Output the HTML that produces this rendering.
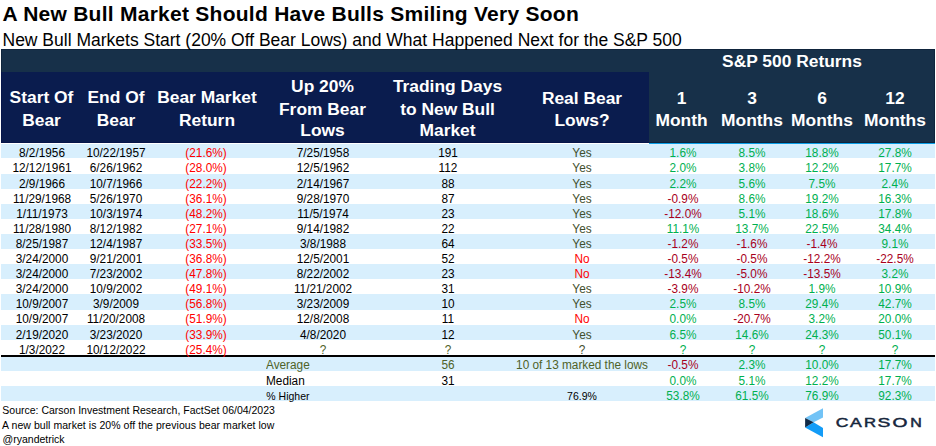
<!DOCTYPE html>
<html><head><meta charset="utf-8"><style>
html,body{margin:0;padding:0;background:#fff}
body{width:936px;height:446px;position:relative;overflow:hidden;font-family:"Liberation Sans", Arial, sans-serif}
.t{position:absolute;white-space:pre}
.r{position:absolute}
</style></head><body>
<div class="r" style="left:1px;top:49px;width:934px;height:94px;background:#173049"></div>
<div class="r" style="left:1px;top:72px;width:648px;height:71px;background:#0a1c4e"></div>
<div class="r" style="left:1px;top:143px;width:648px;height:1px;background:#ffffff"></div>
<div class="r" style="left:1px;top:49px;width:934px;height:1px;background:#0f243c"></div>
<div class="r" style="left:1px;top:49px;width:1px;height:23px;background:#0f243c"></div>
<div class="r" style="left:934px;top:49px;width:1px;height:94px;background:#0f243c"></div>
<div class="r" style="left:649px;top:142px;width:286px;height:1px;background:#0f243c"></div>
<div class="r" style="left:1px;top:72px;width:1px;height:71px;background:#06154a"></div>
<div class="r" style="left:1px;top:142px;width:648px;height:1px;background:#06154a"></div>
<div class="r" style="left:649px;top:143px;width:286px;height:1px;background:#0a9ee6"></div>
<div class="r" style="left:1px;top:144px;width:934px;height:14px;background:#d8effd"></div>
<div class="r" style="left:1px;top:174px;width:934px;height:15px;background:#d8effd"></div>
<div class="r" style="left:1px;top:204px;width:934px;height:15px;background:#d8effd"></div>
<div class="r" style="left:1px;top:234px;width:934px;height:15px;background:#d8effd"></div>
<div class="r" style="left:1px;top:264px;width:934px;height:15px;background:#d8effd"></div>
<div class="r" style="left:1px;top:294px;width:934px;height:16px;background:#d8effd"></div>
<div class="r" style="left:1px;top:325px;width:934px;height:15px;background:#d8effd"></div>
<div class="r" style="left:1px;top:355px;width:934px;height:2px;background:#000"></div>
<div class="r" style="left:1px;top:357px;width:934px;height:14px;background:#d8effd"></div>
<div class="r" style="left:1px;top:386px;width:934px;height:15px;background:#d8effd"></div>
<div class="t" style="left:2.40px;top:2.00px;font-size:21px;line-height:23px;font-weight:700;color:#000;letter-spacing:0.26px;">A New Bull Market Should Have Bulls Smiling Very Soon</div>
<div class="t" style="left:2.50px;top:30.00px;font-size:17.5px;line-height:20px;color:#000;">New Bull Markets Start (20% Off Bear Lows) and What Happened Next for the S&amp;P 500</div>
<div class="t" style="left:-58.50px;width:200px;text-align:center;top:87.00px;font-size:17.4px;line-height:20px;font-weight:700;color:#ffffff;">Start Of</div>
<div class="t" style="left:-58.50px;width:200px;text-align:center;top:110.00px;font-size:17.4px;line-height:20px;font-weight:700;color:#ffffff;">Bear</div>
<div class="t" style="left:16.00px;width:200px;text-align:center;top:87.00px;font-size:17.4px;line-height:20px;font-weight:700;color:#ffffff;">End Of</div>
<div class="t" style="left:16.00px;width:200px;text-align:center;top:110.00px;font-size:17.4px;line-height:20px;font-weight:700;color:#ffffff;">Bear</div>
<div class="t" style="left:107.00px;width:200px;text-align:center;top:87.00px;font-size:17.4px;line-height:20px;font-weight:700;color:#ffffff;">Bear Market</div>
<div class="t" style="left:107.00px;width:200px;text-align:center;top:110.00px;font-size:17.4px;line-height:20px;font-weight:700;color:#ffffff;">Return</div>
<div class="t" style="left:222.50px;width:200px;text-align:center;top:76.00px;font-size:17.4px;line-height:20px;font-weight:700;color:#ffffff;">Up 20%</div>
<div class="t" style="left:222.50px;width:200px;text-align:center;top:99.00px;font-size:17.4px;line-height:20px;font-weight:700;color:#ffffff;">From Bear</div>
<div class="t" style="left:222.50px;width:200px;text-align:center;top:120.00px;font-size:17.4px;line-height:20px;font-weight:700;color:#ffffff;">Lows</div>
<div class="t" style="left:347.50px;width:200px;text-align:center;top:76.00px;font-size:17.4px;line-height:20px;font-weight:700;color:#ffffff;">Trading Days</div>
<div class="t" style="left:347.50px;width:200px;text-align:center;top:99.00px;font-size:17.4px;line-height:20px;font-weight:700;color:#ffffff;">to New Bull</div>
<div class="t" style="left:347.50px;width:200px;text-align:center;top:120.00px;font-size:17.4px;line-height:20px;font-weight:700;color:#ffffff;">Market</div>
<div class="t" style="left:482.00px;width:200px;text-align:center;top:88.00px;font-size:17.4px;line-height:20px;font-weight:700;color:#ffffff;">Real Bear</div>
<div class="t" style="left:482.00px;width:200px;text-align:center;top:110.00px;font-size:17.4px;line-height:20px;font-weight:700;color:#ffffff;">Lows?</div>
<div class="t" style="left:642.00px;width:300px;text-align:center;top:51.00px;font-size:17.4px;line-height:20px;font-weight:700;color:#ffffff;">S&amp;P 500 Returns</div>
<div class="t" style="left:581.50px;width:200px;text-align:center;top:88.00px;font-size:17.4px;line-height:20px;font-weight:700;color:#ffffff;">1</div>
<div class="t" style="left:581.50px;width:200px;text-align:center;top:110.00px;font-size:17.4px;line-height:20px;font-weight:700;color:#ffffff;">Month</div>
<div class="t" style="left:652.00px;width:200px;text-align:center;top:88.00px;font-size:17.4px;line-height:20px;font-weight:700;color:#ffffff;">3</div>
<div class="t" style="left:652.00px;width:200px;text-align:center;top:110.00px;font-size:17.4px;line-height:20px;font-weight:700;color:#ffffff;">Months</div>
<div class="t" style="left:722.00px;width:200px;text-align:center;top:88.00px;font-size:17.4px;line-height:20px;font-weight:700;color:#ffffff;">6</div>
<div class="t" style="left:722.00px;width:200px;text-align:center;top:110.00px;font-size:17.4px;line-height:20px;font-weight:700;color:#ffffff;">Months</div>
<div class="t" style="left:795.00px;width:200px;text-align:center;top:88.00px;font-size:17.4px;line-height:20px;font-weight:700;color:#ffffff;">12</div>
<div class="t" style="left:795.00px;width:200px;text-align:center;top:110.00px;font-size:17.4px;line-height:20px;font-weight:700;color:#ffffff;">Months</div>
<div class="t" style="left:-18.40px;width:120px;text-align:center;top:146.00px;font-size:12.5px;line-height:14px;color:#000000;transform:scaleX(0.944);">8/2/1956</div>
<div class="t" style="left:55.80px;width:120px;text-align:center;top:146.00px;font-size:12.5px;line-height:14px;color:#000000;transform:scaleX(0.944);">10/22/1957</div>
<div class="t" style="left:146.40px;width:120px;text-align:center;top:146.00px;font-size:12.5px;line-height:14px;color:#ff0000;transform:scaleX(0.944);">(21.6%)</div>
<div class="t" style="left:263.00px;width:120px;text-align:center;top:146.00px;font-size:12.5px;line-height:14px;color:#000000;transform:scaleX(0.944);">7/25/1958</div>
<div class="t" style="left:387.60px;width:120px;text-align:center;top:146.00px;font-size:12.5px;line-height:14px;color:#000000;transform:scaleX(0.944);">191</div>
<div class="t" style="left:522.00px;width:120px;text-align:center;top:146.00px;font-size:12.5px;line-height:14px;color:#434f2e;transform:scaleX(0.944);">Yes</div>
<div class="t" style="left:622.50px;width:120px;text-align:center;top:146.00px;font-size:12.5px;line-height:14px;color:#00b050;transform:scaleX(0.944);">1.6%</div>
<div class="t" style="left:691.60px;width:120px;text-align:center;top:146.00px;font-size:12.5px;line-height:14px;color:#00b050;transform:scaleX(0.944);">8.5%</div>
<div class="t" style="left:761.90px;width:120px;text-align:center;top:146.00px;font-size:12.5px;line-height:14px;color:#00b050;transform:scaleX(0.944);">18.8%</div>
<div class="t" style="left:834.90px;width:120px;text-align:center;top:146.00px;font-size:12.5px;line-height:14px;color:#00b050;transform:scaleX(0.944);">27.8%</div>
<div class="t" style="left:-18.40px;width:120px;text-align:center;top:161.00px;font-size:12.5px;line-height:14px;color:#000000;transform:scaleX(0.944);">12/12/1961</div>
<div class="t" style="left:55.80px;width:120px;text-align:center;top:161.00px;font-size:12.5px;line-height:14px;color:#000000;transform:scaleX(0.944);">6/26/1962</div>
<div class="t" style="left:146.40px;width:120px;text-align:center;top:161.00px;font-size:12.5px;line-height:14px;color:#ff0000;transform:scaleX(0.944);">(28.0%)</div>
<div class="t" style="left:263.00px;width:120px;text-align:center;top:161.00px;font-size:12.5px;line-height:14px;color:#000000;transform:scaleX(0.944);">12/5/1962</div>
<div class="t" style="left:387.60px;width:120px;text-align:center;top:161.00px;font-size:12.5px;line-height:14px;color:#000000;transform:scaleX(0.944);">112</div>
<div class="t" style="left:522.00px;width:120px;text-align:center;top:161.00px;font-size:12.5px;line-height:14px;color:#434f2e;transform:scaleX(0.944);">Yes</div>
<div class="t" style="left:622.50px;width:120px;text-align:center;top:161.00px;font-size:12.5px;line-height:14px;color:#00b050;transform:scaleX(0.944);">2.0%</div>
<div class="t" style="left:691.60px;width:120px;text-align:center;top:161.00px;font-size:12.5px;line-height:14px;color:#00b050;transform:scaleX(0.944);">3.8%</div>
<div class="t" style="left:761.90px;width:120px;text-align:center;top:161.00px;font-size:12.5px;line-height:14px;color:#00b050;transform:scaleX(0.944);">12.2%</div>
<div class="t" style="left:834.90px;width:120px;text-align:center;top:161.00px;font-size:12.5px;line-height:14px;color:#00b050;transform:scaleX(0.944);">17.7%</div>
<div class="t" style="left:-18.40px;width:120px;text-align:center;top:177.00px;font-size:12.5px;line-height:14px;color:#000000;transform:scaleX(0.944);">2/9/1966</div>
<div class="t" style="left:55.80px;width:120px;text-align:center;top:177.00px;font-size:12.5px;line-height:14px;color:#000000;transform:scaleX(0.944);">10/7/1966</div>
<div class="t" style="left:146.40px;width:120px;text-align:center;top:177.00px;font-size:12.5px;line-height:14px;color:#ff0000;transform:scaleX(0.944);">(22.2%)</div>
<div class="t" style="left:263.00px;width:120px;text-align:center;top:177.00px;font-size:12.5px;line-height:14px;color:#000000;transform:scaleX(0.944);">2/14/1967</div>
<div class="t" style="left:387.60px;width:120px;text-align:center;top:177.00px;font-size:12.5px;line-height:14px;color:#000000;transform:scaleX(0.944);">88</div>
<div class="t" style="left:522.00px;width:120px;text-align:center;top:177.00px;font-size:12.5px;line-height:14px;color:#434f2e;transform:scaleX(0.944);">Yes</div>
<div class="t" style="left:622.50px;width:120px;text-align:center;top:177.00px;font-size:12.5px;line-height:14px;color:#00b050;transform:scaleX(0.944);">2.2%</div>
<div class="t" style="left:691.60px;width:120px;text-align:center;top:177.00px;font-size:12.5px;line-height:14px;color:#00b050;transform:scaleX(0.944);">5.6%</div>
<div class="t" style="left:761.90px;width:120px;text-align:center;top:177.00px;font-size:12.5px;line-height:14px;color:#00b050;transform:scaleX(0.944);">7.5%</div>
<div class="t" style="left:834.90px;width:120px;text-align:center;top:177.00px;font-size:12.5px;line-height:14px;color:#00b050;transform:scaleX(0.944);">2.4%</div>
<div class="t" style="left:-18.40px;width:120px;text-align:center;top:192.00px;font-size:12.5px;line-height:14px;color:#000000;transform:scaleX(0.944);">11/29/1968</div>
<div class="t" style="left:55.80px;width:120px;text-align:center;top:192.00px;font-size:12.5px;line-height:14px;color:#000000;transform:scaleX(0.944);">5/26/1970</div>
<div class="t" style="left:146.40px;width:120px;text-align:center;top:192.00px;font-size:12.5px;line-height:14px;color:#ff0000;transform:scaleX(0.944);">(36.1%)</div>
<div class="t" style="left:263.00px;width:120px;text-align:center;top:192.00px;font-size:12.5px;line-height:14px;color:#000000;transform:scaleX(0.944);">9/28/1970</div>
<div class="t" style="left:387.60px;width:120px;text-align:center;top:192.00px;font-size:12.5px;line-height:14px;color:#000000;transform:scaleX(0.944);">87</div>
<div class="t" style="left:522.00px;width:120px;text-align:center;top:192.00px;font-size:12.5px;line-height:14px;color:#434f2e;transform:scaleX(0.944);">Yes</div>
<div class="t" style="left:622.50px;width:120px;text-align:center;top:192.00px;font-size:12.5px;line-height:14px;color:#a8001c;transform:scaleX(0.944);">-0.9%</div>
<div class="t" style="left:691.60px;width:120px;text-align:center;top:192.00px;font-size:12.5px;line-height:14px;color:#00b050;transform:scaleX(0.944);">8.6%</div>
<div class="t" style="left:761.90px;width:120px;text-align:center;top:192.00px;font-size:12.5px;line-height:14px;color:#00b050;transform:scaleX(0.944);">19.2%</div>
<div class="t" style="left:834.90px;width:120px;text-align:center;top:192.00px;font-size:12.5px;line-height:14px;color:#00b050;transform:scaleX(0.944);">16.3%</div>
<div class="t" style="left:-18.40px;width:120px;text-align:center;top:207.00px;font-size:12.5px;line-height:14px;color:#000000;transform:scaleX(0.944);">1/11/1973</div>
<div class="t" style="left:55.80px;width:120px;text-align:center;top:207.00px;font-size:12.5px;line-height:14px;color:#000000;transform:scaleX(0.944);">10/3/1974</div>
<div class="t" style="left:146.40px;width:120px;text-align:center;top:207.00px;font-size:12.5px;line-height:14px;color:#ff0000;transform:scaleX(0.944);">(48.2%)</div>
<div class="t" style="left:263.00px;width:120px;text-align:center;top:207.00px;font-size:12.5px;line-height:14px;color:#000000;transform:scaleX(0.944);">11/5/1974</div>
<div class="t" style="left:387.60px;width:120px;text-align:center;top:207.00px;font-size:12.5px;line-height:14px;color:#000000;transform:scaleX(0.944);">23</div>
<div class="t" style="left:522.00px;width:120px;text-align:center;top:207.00px;font-size:12.5px;line-height:14px;color:#434f2e;transform:scaleX(0.944);">Yes</div>
<div class="t" style="left:622.50px;width:120px;text-align:center;top:207.00px;font-size:12.5px;line-height:14px;color:#a8001c;transform:scaleX(0.944);">-12.0%</div>
<div class="t" style="left:691.60px;width:120px;text-align:center;top:207.00px;font-size:12.5px;line-height:14px;color:#00b050;transform:scaleX(0.944);">5.1%</div>
<div class="t" style="left:761.90px;width:120px;text-align:center;top:207.00px;font-size:12.5px;line-height:14px;color:#00b050;transform:scaleX(0.944);">18.6%</div>
<div class="t" style="left:834.90px;width:120px;text-align:center;top:207.00px;font-size:12.5px;line-height:14px;color:#00b050;transform:scaleX(0.944);">17.8%</div>
<div class="t" style="left:-18.40px;width:120px;text-align:center;top:222.00px;font-size:12.5px;line-height:14px;color:#000000;transform:scaleX(0.944);">11/28/1980</div>
<div class="t" style="left:55.80px;width:120px;text-align:center;top:222.00px;font-size:12.5px;line-height:14px;color:#000000;transform:scaleX(0.944);">8/12/1982</div>
<div class="t" style="left:146.40px;width:120px;text-align:center;top:222.00px;font-size:12.5px;line-height:14px;color:#ff0000;transform:scaleX(0.944);">(27.1%)</div>
<div class="t" style="left:263.00px;width:120px;text-align:center;top:222.00px;font-size:12.5px;line-height:14px;color:#000000;transform:scaleX(0.944);">9/14/1982</div>
<div class="t" style="left:387.60px;width:120px;text-align:center;top:222.00px;font-size:12.5px;line-height:14px;color:#000000;transform:scaleX(0.944);">22</div>
<div class="t" style="left:522.00px;width:120px;text-align:center;top:222.00px;font-size:12.5px;line-height:14px;color:#434f2e;transform:scaleX(0.944);">Yes</div>
<div class="t" style="left:622.50px;width:120px;text-align:center;top:222.00px;font-size:12.5px;line-height:14px;color:#00b050;transform:scaleX(0.944);">11.1%</div>
<div class="t" style="left:691.60px;width:120px;text-align:center;top:222.00px;font-size:12.5px;line-height:14px;color:#00b050;transform:scaleX(0.944);">13.7%</div>
<div class="t" style="left:761.90px;width:120px;text-align:center;top:222.00px;font-size:12.5px;line-height:14px;color:#00b050;transform:scaleX(0.944);">22.5%</div>
<div class="t" style="left:834.90px;width:120px;text-align:center;top:222.00px;font-size:12.5px;line-height:14px;color:#00b050;transform:scaleX(0.944);">34.4%</div>
<div class="t" style="left:-18.40px;width:120px;text-align:center;top:237.00px;font-size:12.5px;line-height:14px;color:#000000;transform:scaleX(0.944);">8/25/1987</div>
<div class="t" style="left:55.80px;width:120px;text-align:center;top:237.00px;font-size:12.5px;line-height:14px;color:#000000;transform:scaleX(0.944);">12/4/1987</div>
<div class="t" style="left:146.40px;width:120px;text-align:center;top:237.00px;font-size:12.5px;line-height:14px;color:#ff0000;transform:scaleX(0.944);">(33.5%)</div>
<div class="t" style="left:263.00px;width:120px;text-align:center;top:237.00px;font-size:12.5px;line-height:14px;color:#000000;transform:scaleX(0.944);">3/8/1988</div>
<div class="t" style="left:387.60px;width:120px;text-align:center;top:237.00px;font-size:12.5px;line-height:14px;color:#000000;transform:scaleX(0.944);">64</div>
<div class="t" style="left:522.00px;width:120px;text-align:center;top:237.00px;font-size:12.5px;line-height:14px;color:#434f2e;transform:scaleX(0.944);">Yes</div>
<div class="t" style="left:622.50px;width:120px;text-align:center;top:237.00px;font-size:12.5px;line-height:14px;color:#a8001c;transform:scaleX(0.944);">-1.2%</div>
<div class="t" style="left:691.60px;width:120px;text-align:center;top:237.00px;font-size:12.5px;line-height:14px;color:#a8001c;transform:scaleX(0.944);">-1.6%</div>
<div class="t" style="left:761.90px;width:120px;text-align:center;top:237.00px;font-size:12.5px;line-height:14px;color:#a8001c;transform:scaleX(0.944);">-1.4%</div>
<div class="t" style="left:834.90px;width:120px;text-align:center;top:237.00px;font-size:12.5px;line-height:14px;color:#00b050;transform:scaleX(0.944);">9.1%</div>
<div class="t" style="left:-18.40px;width:120px;text-align:center;top:252.00px;font-size:12.5px;line-height:14px;color:#000000;transform:scaleX(0.944);">3/24/2000</div>
<div class="t" style="left:55.80px;width:120px;text-align:center;top:252.00px;font-size:12.5px;line-height:14px;color:#000000;transform:scaleX(0.944);">9/21/2001</div>
<div class="t" style="left:146.40px;width:120px;text-align:center;top:252.00px;font-size:12.5px;line-height:14px;color:#ff0000;transform:scaleX(0.944);">(36.8%)</div>
<div class="t" style="left:263.00px;width:120px;text-align:center;top:252.00px;font-size:12.5px;line-height:14px;color:#000000;transform:scaleX(0.944);">12/5/2001</div>
<div class="t" style="left:387.60px;width:120px;text-align:center;top:252.00px;font-size:12.5px;line-height:14px;color:#000000;transform:scaleX(0.944);">52</div>
<div class="t" style="left:522.00px;width:120px;text-align:center;top:252.00px;font-size:12.5px;line-height:14px;color:#ff0000;transform:scaleX(0.944);">No</div>
<div class="t" style="left:622.50px;width:120px;text-align:center;top:252.00px;font-size:12.5px;line-height:14px;color:#a8001c;transform:scaleX(0.944);">-0.5%</div>
<div class="t" style="left:691.60px;width:120px;text-align:center;top:252.00px;font-size:12.5px;line-height:14px;color:#a8001c;transform:scaleX(0.944);">-0.5%</div>
<div class="t" style="left:761.90px;width:120px;text-align:center;top:252.00px;font-size:12.5px;line-height:14px;color:#a8001c;transform:scaleX(0.944);">-12.2%</div>
<div class="t" style="left:834.90px;width:120px;text-align:center;top:252.00px;font-size:12.5px;line-height:14px;color:#a8001c;transform:scaleX(0.944);">-22.5%</div>
<div class="t" style="left:-18.40px;width:120px;text-align:center;top:267.00px;font-size:12.5px;line-height:14px;color:#000000;transform:scaleX(0.944);">3/24/2000</div>
<div class="t" style="left:55.80px;width:120px;text-align:center;top:267.00px;font-size:12.5px;line-height:14px;color:#000000;transform:scaleX(0.944);">7/23/2002</div>
<div class="t" style="left:146.40px;width:120px;text-align:center;top:267.00px;font-size:12.5px;line-height:14px;color:#ff0000;transform:scaleX(0.944);">(47.8%)</div>
<div class="t" style="left:263.00px;width:120px;text-align:center;top:267.00px;font-size:12.5px;line-height:14px;color:#000000;transform:scaleX(0.944);">8/22/2002</div>
<div class="t" style="left:387.60px;width:120px;text-align:center;top:267.00px;font-size:12.5px;line-height:14px;color:#000000;transform:scaleX(0.944);">23</div>
<div class="t" style="left:522.00px;width:120px;text-align:center;top:267.00px;font-size:12.5px;line-height:14px;color:#ff0000;transform:scaleX(0.944);">No</div>
<div class="t" style="left:622.50px;width:120px;text-align:center;top:267.00px;font-size:12.5px;line-height:14px;color:#a8001c;transform:scaleX(0.944);">-13.4%</div>
<div class="t" style="left:691.60px;width:120px;text-align:center;top:267.00px;font-size:12.5px;line-height:14px;color:#a8001c;transform:scaleX(0.944);">-5.0%</div>
<div class="t" style="left:761.90px;width:120px;text-align:center;top:267.00px;font-size:12.5px;line-height:14px;color:#a8001c;transform:scaleX(0.944);">-13.5%</div>
<div class="t" style="left:834.90px;width:120px;text-align:center;top:267.00px;font-size:12.5px;line-height:14px;color:#00b050;transform:scaleX(0.944);">3.2%</div>
<div class="t" style="left:-18.40px;width:120px;text-align:center;top:282.00px;font-size:12.5px;line-height:14px;color:#000000;transform:scaleX(0.944);">3/24/2000</div>
<div class="t" style="left:55.80px;width:120px;text-align:center;top:282.00px;font-size:12.5px;line-height:14px;color:#000000;transform:scaleX(0.944);">10/9/2002</div>
<div class="t" style="left:146.40px;width:120px;text-align:center;top:282.00px;font-size:12.5px;line-height:14px;color:#ff0000;transform:scaleX(0.944);">(49.1%)</div>
<div class="t" style="left:263.00px;width:120px;text-align:center;top:282.00px;font-size:12.5px;line-height:14px;color:#000000;transform:scaleX(0.944);">11/21/2002</div>
<div class="t" style="left:387.60px;width:120px;text-align:center;top:282.00px;font-size:12.5px;line-height:14px;color:#000000;transform:scaleX(0.944);">31</div>
<div class="t" style="left:522.00px;width:120px;text-align:center;top:282.00px;font-size:12.5px;line-height:14px;color:#434f2e;transform:scaleX(0.944);">Yes</div>
<div class="t" style="left:622.50px;width:120px;text-align:center;top:282.00px;font-size:12.5px;line-height:14px;color:#a8001c;transform:scaleX(0.944);">-3.9%</div>
<div class="t" style="left:691.60px;width:120px;text-align:center;top:282.00px;font-size:12.5px;line-height:14px;color:#a8001c;transform:scaleX(0.944);">-10.2%</div>
<div class="t" style="left:761.90px;width:120px;text-align:center;top:282.00px;font-size:12.5px;line-height:14px;color:#00b050;transform:scaleX(0.944);">1.9%</div>
<div class="t" style="left:834.90px;width:120px;text-align:center;top:282.00px;font-size:12.5px;line-height:14px;color:#00b050;transform:scaleX(0.944);">10.9%</div>
<div class="t" style="left:-18.40px;width:120px;text-align:center;top:297.00px;font-size:12.5px;line-height:14px;color:#000000;transform:scaleX(0.944);">10/9/2007</div>
<div class="t" style="left:55.80px;width:120px;text-align:center;top:297.00px;font-size:12.5px;line-height:14px;color:#000000;transform:scaleX(0.944);">3/9/2009</div>
<div class="t" style="left:146.40px;width:120px;text-align:center;top:297.00px;font-size:12.5px;line-height:14px;color:#ff0000;transform:scaleX(0.944);">(56.8%)</div>
<div class="t" style="left:263.00px;width:120px;text-align:center;top:297.00px;font-size:12.5px;line-height:14px;color:#000000;transform:scaleX(0.944);">3/23/2009</div>
<div class="t" style="left:387.60px;width:120px;text-align:center;top:297.00px;font-size:12.5px;line-height:14px;color:#000000;transform:scaleX(0.944);">10</div>
<div class="t" style="left:522.00px;width:120px;text-align:center;top:297.00px;font-size:12.5px;line-height:14px;color:#434f2e;transform:scaleX(0.944);">Yes</div>
<div class="t" style="left:622.50px;width:120px;text-align:center;top:297.00px;font-size:12.5px;line-height:14px;color:#00b050;transform:scaleX(0.944);">2.5%</div>
<div class="t" style="left:691.60px;width:120px;text-align:center;top:297.00px;font-size:12.5px;line-height:14px;color:#00b050;transform:scaleX(0.944);">8.5%</div>
<div class="t" style="left:761.90px;width:120px;text-align:center;top:297.00px;font-size:12.5px;line-height:14px;color:#00b050;transform:scaleX(0.944);">29.4%</div>
<div class="t" style="left:834.90px;width:120px;text-align:center;top:297.00px;font-size:12.5px;line-height:14px;color:#00b050;transform:scaleX(0.944);">42.7%</div>
<div class="t" style="left:-18.40px;width:120px;text-align:center;top:312.00px;font-size:12.5px;line-height:14px;color:#000000;transform:scaleX(0.944);">10/9/2007</div>
<div class="t" style="left:55.80px;width:120px;text-align:center;top:312.00px;font-size:12.5px;line-height:14px;color:#000000;transform:scaleX(0.944);">11/20/2008</div>
<div class="t" style="left:146.40px;width:120px;text-align:center;top:312.00px;font-size:12.5px;line-height:14px;color:#ff0000;transform:scaleX(0.944);">(51.9%)</div>
<div class="t" style="left:263.00px;width:120px;text-align:center;top:312.00px;font-size:12.5px;line-height:14px;color:#000000;transform:scaleX(0.944);">12/8/2008</div>
<div class="t" style="left:387.60px;width:120px;text-align:center;top:312.00px;font-size:12.5px;line-height:14px;color:#000000;transform:scaleX(0.944);">11</div>
<div class="t" style="left:522.00px;width:120px;text-align:center;top:312.00px;font-size:12.5px;line-height:14px;color:#ff0000;transform:scaleX(0.944);">No</div>
<div class="t" style="left:622.50px;width:120px;text-align:center;top:312.00px;font-size:12.5px;line-height:14px;color:#00b050;transform:scaleX(0.944);">0.0%</div>
<div class="t" style="left:691.60px;width:120px;text-align:center;top:312.00px;font-size:12.5px;line-height:14px;color:#a8001c;transform:scaleX(0.944);">-20.7%</div>
<div class="t" style="left:761.90px;width:120px;text-align:center;top:312.00px;font-size:12.5px;line-height:14px;color:#00b050;transform:scaleX(0.944);">3.2%</div>
<div class="t" style="left:834.90px;width:120px;text-align:center;top:312.00px;font-size:12.5px;line-height:14px;color:#00b050;transform:scaleX(0.944);">20.0%</div>
<div class="t" style="left:-18.40px;width:120px;text-align:center;top:328.00px;font-size:12.5px;line-height:14px;color:#000000;transform:scaleX(0.944);">2/19/2020</div>
<div class="t" style="left:55.80px;width:120px;text-align:center;top:328.00px;font-size:12.5px;line-height:14px;color:#000000;transform:scaleX(0.944);">3/23/2020</div>
<div class="t" style="left:146.40px;width:120px;text-align:center;top:328.00px;font-size:12.5px;line-height:14px;color:#ff0000;transform:scaleX(0.944);">(33.9%)</div>
<div class="t" style="left:263.00px;width:120px;text-align:center;top:328.00px;font-size:12.5px;line-height:14px;color:#000000;transform:scaleX(0.944);">4/8/2020</div>
<div class="t" style="left:387.60px;width:120px;text-align:center;top:328.00px;font-size:12.5px;line-height:14px;color:#000000;transform:scaleX(0.944);">12</div>
<div class="t" style="left:522.00px;width:120px;text-align:center;top:328.00px;font-size:12.5px;line-height:14px;color:#434f2e;transform:scaleX(0.944);">Yes</div>
<div class="t" style="left:622.50px;width:120px;text-align:center;top:328.00px;font-size:12.5px;line-height:14px;color:#00b050;transform:scaleX(0.944);">6.5%</div>
<div class="t" style="left:691.60px;width:120px;text-align:center;top:328.00px;font-size:12.5px;line-height:14px;color:#00b050;transform:scaleX(0.944);">14.6%</div>
<div class="t" style="left:761.90px;width:120px;text-align:center;top:328.00px;font-size:12.5px;line-height:14px;color:#00b050;transform:scaleX(0.944);">24.3%</div>
<div class="t" style="left:834.90px;width:120px;text-align:center;top:328.00px;font-size:12.5px;line-height:14px;color:#00b050;transform:scaleX(0.944);">50.1%</div>
<div class="t" style="left:-18.40px;width:120px;text-align:center;top:343.00px;font-size:12.5px;line-height:14px;color:#000000;transform:scaleX(0.944);">1/3/2022</div>
<div class="t" style="left:55.80px;width:120px;text-align:center;top:343.00px;font-size:12.5px;line-height:14px;color:#000000;transform:scaleX(0.944);">10/12/2022</div>
<div class="t" style="left:146.40px;width:120px;text-align:center;top:343.00px;font-size:12.5px;line-height:14px;color:#ff0000;transform:scaleX(0.944);">(25.4%)</div>
<div class="t" style="left:263.00px;width:120px;text-align:center;top:343.00px;font-size:12.5px;line-height:14px;color:#4f6228;transform:scaleX(0.944);">?</div>
<div class="t" style="left:387.60px;width:120px;text-align:center;top:343.00px;font-size:12.5px;line-height:14px;color:#4f6228;transform:scaleX(0.944);">?</div>
<div class="t" style="left:522.00px;width:120px;text-align:center;top:343.00px;font-size:12.5px;line-height:14px;color:#434f2e;transform:scaleX(0.944);">?</div>
<div class="t" style="left:622.50px;width:120px;text-align:center;top:343.00px;font-size:12.5px;line-height:14px;color:#00b050;transform:scaleX(0.944);">?</div>
<div class="t" style="left:691.60px;width:120px;text-align:center;top:343.00px;font-size:12.5px;line-height:14px;color:#00b050;transform:scaleX(0.944);">?</div>
<div class="t" style="left:761.90px;width:120px;text-align:center;top:343.00px;font-size:12.5px;line-height:14px;color:#00b050;transform:scaleX(0.944);">?</div>
<div class="t" style="left:834.90px;width:120px;text-align:center;top:343.00px;font-size:12.5px;line-height:14px;color:#00b050;transform:scaleX(0.944);">?</div>
<div class="t" style="left:266.30px;top:358.00px;font-size:12.5px;line-height:14px;color:#4f6228;transform:scaleX(0.944);transform-origin:0 0;">Average</div>
<div class="t" style="left:266.30px;top:374.00px;font-size:12.5px;line-height:14px;color:#000000;transform:scaleX(0.944);transform-origin:0 0;">Median</div>
<div class="t" style="left:266.30px;top:390.00px;font-size:10.5px;line-height:12px;color:#000000;">% Higher</div>
<div class="t" style="left:417.60px;width:60px;text-align:center;top:358.00px;font-size:12.5px;line-height:14px;color:#4f6228;transform:scaleX(0.944);">56</div>
<div class="t" style="left:417.60px;width:60px;text-align:center;top:374.00px;font-size:12.5px;line-height:14px;color:#000000;transform:scaleX(0.944);">31</div>
<div class="t" style="left:482.30px;width:200px;text-align:center;top:358.00px;font-size:12.5px;line-height:14px;color:#4f6228;transform:scaleX(0.944);">10 of 13 marked the lows</div>
<div class="t" style="left:532.00px;width:100px;text-align:center;top:390.00px;font-size:10.5px;line-height:12px;color:#000000;">76.9%</div>
<div class="t" style="left:622.50px;width:120px;text-align:center;top:358.00px;font-size:12.5px;line-height:14px;color:#a8001c;transform:scaleX(0.944);">-0.5%</div>
<div class="t" style="left:691.60px;width:120px;text-align:center;top:358.00px;font-size:12.5px;line-height:14px;color:#00b050;transform:scaleX(0.944);">2.3%</div>
<div class="t" style="left:761.90px;width:120px;text-align:center;top:358.00px;font-size:12.5px;line-height:14px;color:#00b050;transform:scaleX(0.944);">10.0%</div>
<div class="t" style="left:834.90px;width:120px;text-align:center;top:358.00px;font-size:12.5px;line-height:14px;color:#00b050;transform:scaleX(0.944);">17.7%</div>
<div class="t" style="left:622.50px;width:120px;text-align:center;top:374.00px;font-size:12.5px;line-height:14px;color:#00b050;transform:scaleX(0.944);">0.0%</div>
<div class="t" style="left:691.60px;width:120px;text-align:center;top:374.00px;font-size:12.5px;line-height:14px;color:#00b050;transform:scaleX(0.944);">5.1%</div>
<div class="t" style="left:761.90px;width:120px;text-align:center;top:374.00px;font-size:12.5px;line-height:14px;color:#00b050;transform:scaleX(0.944);">12.2%</div>
<div class="t" style="left:834.90px;width:120px;text-align:center;top:374.00px;font-size:12.5px;line-height:14px;color:#00b050;transform:scaleX(0.944);">17.7%</div>
<div class="t" style="left:622.50px;width:120px;text-align:center;top:389.00px;font-size:12.5px;line-height:14px;color:#00b050;transform:scaleX(0.944);">53.8%</div>
<div class="t" style="left:691.60px;width:120px;text-align:center;top:389.00px;font-size:12.5px;line-height:14px;color:#00b050;transform:scaleX(0.944);">61.5%</div>
<div class="t" style="left:761.90px;width:120px;text-align:center;top:389.00px;font-size:12.5px;line-height:14px;color:#00b050;transform:scaleX(0.944);">76.9%</div>
<div class="t" style="left:834.90px;width:120px;text-align:center;top:389.00px;font-size:12.5px;line-height:14px;color:#00b050;transform:scaleX(0.944);">92.3%</div>
<div class="t" style="left:2.30px;top:404.00px;font-size:10.5px;line-height:12px;color:#000000;">Source: Carson Investment Research, FactSet 06/04/2023</div>
<div class="t" style="left:2.10px;top:419.00px;font-size:10.5px;line-height:12px;color:#000000;letter-spacing:0.05px;">A new bull market is 20% off the previous bear market low</div>
<div class="t" style="left:2.60px;top:433.00px;font-size:10.5px;line-height:12px;color:#000000;">@ryandetrick</div>
<svg style="position:absolute;left:0;top:0" width="936" height="446" viewBox="0 0 936 446">
<polygon points="805.1,418.1 823,408.3 823,417.5 813.6,422.3" fill="#72c3f6"/>
<polygon points="805.1,427.4 813.6,422.3 823,427.9 823,437.2" fill="#139cf7"/>
<polygon points="805.1,418.1 813.6,422.3 805.1,427.4" fill="#112a47"/>
</svg>
<div class="t" style="left:831.80px;width:20px;text-align:center;top:416.00px;font-size:12px;line-height:14px;color:#16263c;transform:scaleX(1.46);-webkit-text-stroke:0.45px #16263c;">C</div>
<div class="t" style="left:845.90px;width:20px;text-align:center;top:416.00px;font-size:12px;line-height:14px;color:#16263c;transform:scaleX(1.47);-webkit-text-stroke:0.45px #16263c;">A</div>
<div class="t" style="left:860.25px;width:20px;text-align:center;top:416.00px;font-size:12px;line-height:14px;color:#16263c;transform:scaleX(1.39);-webkit-text-stroke:0.45px #16263c;">R</div>
<div class="t" style="left:873.60px;width:20px;text-align:center;top:416.00px;font-size:12px;line-height:14px;color:#16263c;transform:scaleX(1.6);-webkit-text-stroke:0.45px #16263c;">S</div>
<div class="t" style="left:889.75px;width:20px;text-align:center;top:416.00px;font-size:12px;line-height:14px;color:#16263c;transform:scaleX(1.6);-webkit-text-stroke:0.45px #16263c;">O</div>
<div class="t" style="left:905.65px;width:20px;text-align:center;top:416.00px;font-size:12px;line-height:14px;color:#16263c;transform:scaleX(1.33);-webkit-text-stroke:0.45px #16263c;">N</div>
</body></html>
